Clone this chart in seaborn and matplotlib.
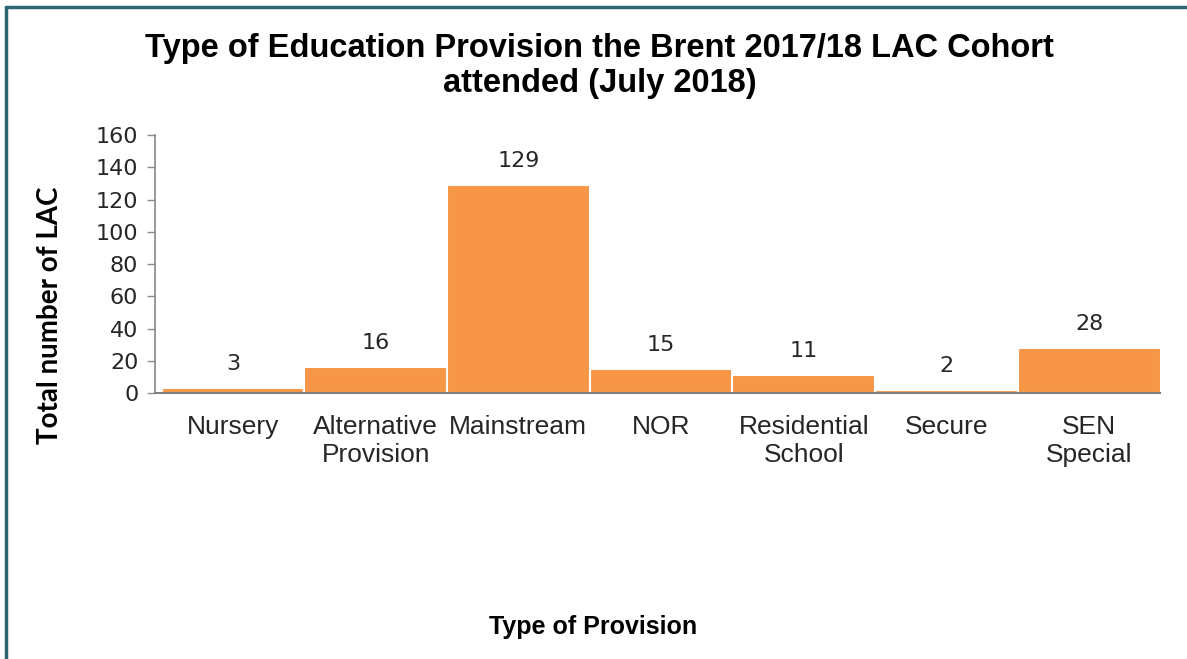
import matplotlib
matplotlib.use("Agg")
import matplotlib.pyplot as plt
from matplotlib.lines import Line2D
import seaborn as sns
import pandas as pd

categories = ["Nursery", "Alternative\nProvision", "Mainstream", "NOR",
              "Residential\nSchool", "Secure", "SEN\nSpecial"]
counts = [3, 16, 129, 15, 11, 2, 28]
y_ticks = [0, 20, 40, 60, 80, 100, 120, 140, 160]

df = pd.DataFrame({"provision": categories, "count": counts})

sns.set_theme(style="white")
plt.rcParams["font.family"] = ["DejaVu Sans"]

fig = plt.figure(figsize=(11.87, 6.59), dpi=100)
ax = fig.add_axes([0.1306, 0.4036, 0.8464, 0.3915])

sns.barplot(data=df, x="provision", y="count", color="#F79646", saturation=1,
            width=1.0, edgecolor="white", linewidth=1.5, ax=ax)

ax.set_xlim(-0.546, 6.494)
ax.set_ylim(0, 160)
ax.set_yticks(y_ticks)
ax.tick_params(axis="y", labelsize=16, length=6, width=1,
               direction="out", left=True, pad=6, color="#8c8c8c")
for t in ax.get_yticklabels():
    t.set_color("#262626")
ax.tick_params(axis="x", length=0, pad=16)
for t in ax.get_xticklabels():
    t.set_fontfamily(["Liberation Sans", "DejaVu Sans"])
    t.set_fontsize(19)
    t.set_color("#262626")
    t.set_verticalalignment("top")

sns.despine(ax=ax, top=True, right=True)
ax.spines["left"].set_color("#8c8c8c")
ax.spines["bottom"].set_color("#7f7f7f")
ax.spines["bottom"].set_linewidth(1.5)

for p, v in zip(ax.patches, counts):
    ax.annotate(str(v), (p.get_x() + p.get_width() / 2, v),
                xytext=(0, 10), textcoords="offset points",
                ha="center", va="bottom", fontsize=16, color="#262626")

ax.set_ylabel("Total number of LAC", fontsize=20, fontweight="bold",
              family=["Lato", "DejaVu Sans"], color="black")
ax.yaxis.set_label_coords(-0.0915, 0.30)
ax.set_xlabel("Type of Provision", fontsize=18, fontweight="bold",
              family=["Liberation Sans Narrow", "Liberation Sans"], color="black",
              va="center")
ax.xaxis.set_label_coords(0.436, -0.905)

fig.text(0.505, 0.90, "Type of Education Provision the Brent 2017/18 LAC Cohort\nattended (July 2018)",
         ha="center", va="center", fontsize=23.5, fontweight="bold", color="black",
         family=["Liberation Sans", "DejaVu Sans"], linespacing=1.15)

# frame edges
border = "#2F6475"
fig.add_artist(Line2D([6 / 1187, 1.0], [1 - 7 / 659, 1 - 7 / 659],
                      transform=fig.transFigure, color=border, linewidth=2.5))
fig.add_artist(Line2D([6 / 1187, 6 / 1187], [0.0, 1 - 7 / 659],
                      transform=fig.transFigure, color=border, linewidth=2.5))

fig.savefig("out.png", dpi=100)
